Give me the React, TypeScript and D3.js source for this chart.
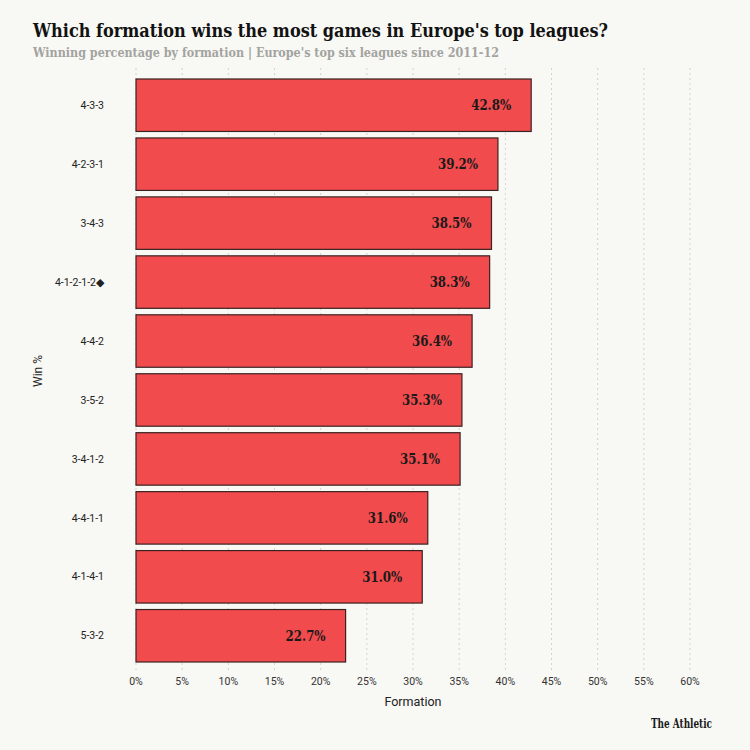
import { useEffect, useRef } from 'react';
import * as d3 from 'd3';

// Data
const formations = ['4-3-3', '4-2-3-1', '3-4-3', '4-1-2-1-2◆', '4-4-2', '3-5-2', '3-4-1-2', '4-4-1-1', '4-1-4-1', '5-3-2'];
const winPct = [42.8, 39.2, 38.5, 38.3, 36.4, 35.3, 35.1, 31.6, 31.0, 22.7];
const xTicks = [0, 5, 10, 15, 20, 25, 30, 35, 40, 45, 50, 55, 60];

const width = 750;
const height = 750;
const margin = { top: 79, right: 60, bottom: 88, left: 136 };

export default function App() {
  const svgRef = useRef<SVGSVGElement>(null);

  useEffect(() => {
    if (!svgRef.current) return;
    const svg = d3.select(svgRef.current);
    svg.selectAll('*').remove();

    svg.append('rect').attr('width', width).attr('height', height).attr('fill', '#f8f8f4');

    const x = d3.scaleLinear().domain([0, 60]).range([margin.left, width - margin.right]);
    const y = d3
      .scaleBand<string>()
      .domain(formations)
      .range([margin.top, height - margin.bottom])
      .paddingInner(0.11)
      .paddingOuter(0);

    // Dotted grid lines
    svg
      .append('g')
      .selectAll('line')
      .data(xTicks)
      .join('line')
      .attr('x1', d => x(d))
      .attr('x2', d => x(d))
      .attr('y1', 68)
      .attr('y2', 670)
      .attr('stroke', '#d2d2ce')
      .attr('stroke-width', 1)
      .attr('stroke-dasharray', '2,3');

    // Bars
    svg
      .append('g')
      .selectAll('rect')
      .data(formations)
      .join('rect')
      .attr('x', x(0))
      .attr('y', d => y(d)!)
      .attr('width', (_d, i) => x(winPct[i]) - x(0))
      .attr('height', y.bandwidth())
      .attr('fill', '#f24b4d')
      .attr('stroke', '#3a2222')
      .attr('stroke-width', 1.2);

    // Value labels inside bars
    svg
      .append('g')
      .attr('text-anchor', 'end')
      .selectAll('text')
      .data(formations)
      .join('text')
      .attr('x', (_d, i) => x(winPct[i]) - 20)
      .attr('y', d => y(d)! + y.bandwidth() / 2)
      .attr('dy', '0.36em')
      .attr('fill', '#1a1a1a')
      .attr('textLength', 40)
      .attr('lengthAdjust', 'spacingAndGlyphs')
      .style('font-family', '"DejaVu Serif", serif')
      .style('font-weight', 'bold')
      .style('font-size', '14px')
      .text((_d, i) => `${winPct[i].toFixed(1)}%`);

    // Category labels
    svg
      .append('g')
      .attr('text-anchor', 'end')
      .selectAll('text')
      .data(formations)
      .join('text')
      .attr('x', 104)
      .attr('y', d => y(d)! + y.bandwidth() / 2)
      .attr('dy', '0.35em')
      .attr('fill', '#222')
      .style('font-family', 'Roboto, sans-serif')
      .style('font-size', '10.5px')
      .text(d => d);

    // X tick labels
    svg
      .append('g')
      .attr('text-anchor', 'middle')
      .selectAll('text')
      .data(xTicks)
      .join('text')
      .attr('x', d => x(d))
      .attr('y', 685)
      .attr('fill', '#333')
      .style('font-family', 'Roboto, sans-serif')
      .style('font-size', '10.5px')
      .text(d => `${d}%`);

    // Axis titles
    svg
      .append('text')
      .attr('x', (x(0) + x(60)) / 2)
      .attr('y', 706)
      .attr('text-anchor', 'middle')
      .attr('fill', '#222')
      .style('font-family', 'Roboto, sans-serif')
      .style('font-size', '12.5px')
      .text('Formation');

    svg
      .append('text')
      .attr('transform', 'translate(42,371) rotate(-90)')
      .attr('text-anchor', 'middle')
      .attr('fill', '#222')
      .style('font-family', 'Roboto, sans-serif')
      .style('font-size', '12px')
      .text('Win %');

    // Title and subtitle
    svg
      .append('text')
      .attr('x', 33)
      .attr('y', 37)
      .attr('fill', '#121212')
      .style('font-family', '"DejaVu Serif", serif')
      .style('font-weight', 'bold')
      .style('font-size', '18px')
      .attr('textLength', 575)
      .attr('lengthAdjust', 'spacingAndGlyphs')
      .text("Which formation wins the most games in Europe's top leagues?");

    svg
      .append('text')
      .attr('x', 33)
      .attr('y', 57)
      .attr('fill', '#a3a3a0')
      .style('font-family', '"DejaVu Serif", serif')
      .style('font-weight', 'bold')
      .style('font-size', '13px')
      .attr('textLength', 466)
      .attr('lengthAdjust', 'spacingAndGlyphs')
      .text("Winning percentage by formation | Europe's top six leagues since 2011-12");

    svg
      .append('text')
      .attr('x', 712)
      .attr('y', 728)
      .attr('text-anchor', 'end')
      .attr('fill', '#1a1a1a')
      .style('font-family', '"DejaVu Serif", serif')
      .style('font-weight', 'bold')
      .style('font-size', '12px')
      .attr('textLength', 61)
      .attr('lengthAdjust', 'spacingAndGlyphs')
      .text('The Athletic');
  }, []);

  return (
    <div style={{ position: 'absolute', left: 0, top: 0 }}>
      <svg ref={svgRef} width={width} height={height} style={{ display: 'block' }} />
    </div>
  );
}
